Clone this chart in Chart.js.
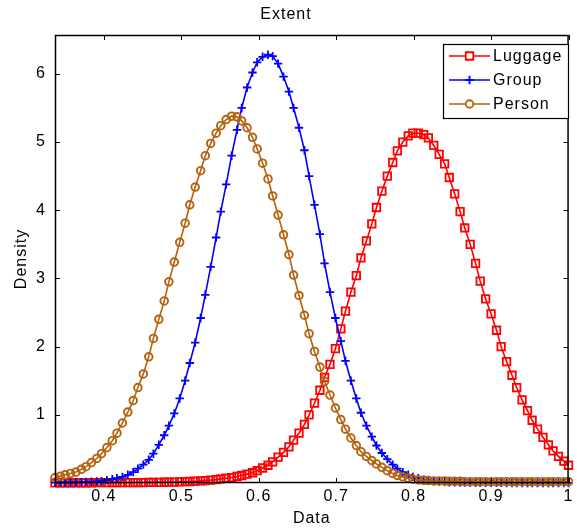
<!DOCTYPE html>
<html>
<head>
<meta charset="utf-8">
<script src="https://cdn.jsdelivr.net/npm/chart.js@4.4.0/dist/chart.umd.min.js"></script>
<style>
  html, body { margin: 0; padding: 0; background: #fff; }
</style>
</head>
<body>
<canvas id="myChart" width="577" height="531"></canvas>
<script>
// sample grid of the density estimate
const dataX = [
    0.337, 0.344, 0.350, 0.357, 0.364, 0.371, 0.377, 0.384, 0.391, 0.397,
    0.404, 0.411, 0.417, 0.424, 0.431, 0.438, 0.444, 0.451, 0.458, 0.464,
    0.471, 0.478, 0.484, 0.491, 0.498, 0.505, 0.511, 0.518, 0.525, 0.531,
    0.538, 0.545, 0.551, 0.558, 0.565, 0.572, 0.578, 0.585, 0.592, 0.598,
    0.605, 0.612, 0.618, 0.625, 0.632, 0.639, 0.645, 0.652, 0.659, 0.665,
    0.672, 0.679, 0.685, 0.692, 0.699, 0.706, 0.712, 0.719, 0.726, 0.732,
    0.739, 0.746, 0.752, 0.759, 0.766, 0.773, 0.779, 0.786, 0.793, 0.799,
    0.806, 0.813, 0.819, 0.826, 0.833, 0.840, 0.846, 0.853, 0.860, 0.866,
    0.873, 0.880, 0.886, 0.893, 0.900, 0.907, 0.913, 0.920, 0.927, 0.933,
    0.940, 0.947, 0.953, 0.960, 0.967, 0.974, 0.980, 0.987, 0.994, 1.000
];

const luggage = [
    0.002, 0.002, 0.002, 0.002, 0.003, 0.003, 0.003, 0.003, 0.004, 0.004,
    0.004, 0.005, 0.005, 0.005, 0.006, 0.006, 0.007, 0.007, 0.008, 0.009,
    0.010, 0.011, 0.012, 0.014, 0.016, 0.019, 0.022, 0.026, 0.031, 0.036,
    0.042, 0.05, 0.06, 0.07, 0.08, 0.095, 0.11, 0.13, 0.15, 0.18,
    0.22, 0.26, 0.31, 0.38, 0.45, 0.53, 0.63, 0.73, 0.86, 1.00,
    1.17, 1.36, 1.55, 1.74, 1.97, 2.26, 2.52, 2.80, 3.04, 3.30,
    3.55, 3.80, 4.04, 4.28, 4.50, 4.70, 4.87, 5.00, 5.09, 5.13,
    5.13, 5.11, 5.06, 4.95, 4.82, 4.68, 4.48, 4.24, 3.98, 3.74,
    3.50, 3.22, 2.96, 2.70, 2.48, 2.24, 2.00, 1.78, 1.58, 1.40,
    1.22, 1.06, 0.92, 0.79, 0.67, 0.56, 0.47, 0.39, 0.32, 0.26
];

const group = [
    0.005, 0.006, 0.007, 0.008, 0.010, 0.012, 0.015, 0.018, 0.022, 0.028,
    0.042, 0.055, 0.07, 0.09, 0.12, 0.16, 0.21, 0.27, 0.34, 0.43,
    0.56, 0.70, 0.84, 1.02, 1.24, 1.50, 1.76, 2.06, 2.42, 2.76,
    3.17, 3.60, 3.98, 4.38, 4.80, 5.18, 5.50, 5.80, 6.02, 6.17,
    6.25, 6.28, 6.26, 6.15, 5.96, 5.74, 5.50, 5.21, 4.88, 4.50,
    4.08, 3.65, 3.22, 2.80, 2.42, 2.08, 1.79, 1.50, 1.24, 1.03,
    0.84, 0.68, 0.55, 0.44, 0.35, 0.27, 0.21, 0.16, 0.12, 0.09,
    0.07, 0.05, 0.04, 0.03, 0.02, 0.015, 0.012, 0.010, 0.008, 0.006,
    0.005, 0.004, 0.003, 0.003, 0.002, 0.002, 0.002, 0.001, 0.001, 0.001,
    0.001, 0.001, 0.001, 0.001, 0.001, 0.001, 0.001, 0.001, 0.001, 0.001
];

const person = [
    0.08, 0.10, 0.12, 0.14, 0.16, 0.20, 0.24, 0.30, 0.36, 0.43,
    0.52, 0.62, 0.73, 0.88, 1.04, 1.21, 1.40, 1.60, 1.85, 2.12,
    2.40, 2.67, 2.95, 3.24, 3.53, 3.81, 4.08, 4.34, 4.58, 4.80,
    4.98, 5.13, 5.24, 5.33, 5.38, 5.37, 5.31, 5.21, 5.07, 4.90,
    4.69, 4.46, 4.21, 3.93, 3.64, 3.35, 3.05, 2.75, 2.46, 2.19,
    1.93, 1.70, 1.49, 1.29, 1.10, 0.93, 0.79, 0.66, 0.55, 0.46,
    0.39, 0.33, 0.28, 0.23, 0.18, 0.14, 0.11, 0.09, 0.07, 0.055,
    0.045, 0.04, 0.035, 0.03, 0.03, 0.03, 0.025, 0.025, 0.025, 0.02,
    0.02, 0.02, 0.02, 0.02, 0.02, 0.02, 0.02, 0.02, 0.02, 0.02,
    0.02, 0.02, 0.02, 0.02, 0.02, 0.02, 0.02, 0.02, 0.02, 0.02
];

const xTicks = [0.4, 0.5, 0.6, 0.7, 0.8, 0.9, 1];
const yTicks = [1, 2, 3, 4, 5, 6];

const FONT = 'Liberation Sans, Arial, sans-serif';
const BROWN = 'rgb(181, 98, 14)';

const pts = ys => dataX.map((x, i) => ({ x: x, y: ys[i] }));

// inward ticks, box and the legend inside the axes
const frame = {
    id: 'frame',
    beforeDraw(chart) {
        chart.ctx.letterSpacing = '1px';
    },
    afterDraw(chart) {
        const { ctx, chartArea: a, scales: { x, y } } = chart;
        ctx.save();
        ctx.strokeStyle = '#000';
        ctx.lineWidth = 1;
        ctx.beginPath();
        xTicks.forEach(v => {
            const px = Math.round(x.getPixelForValue(v)) + 0.5;
            ctx.moveTo(px, a.bottom); ctx.lineTo(px, a.bottom - 5);
            ctx.moveTo(px, a.top); ctx.lineTo(px, a.top + 5);
        });
        yTicks.forEach(v => {
            const py = Math.round(y.getPixelForValue(v)) + 0.5;
            ctx.moveTo(a.left, py); ctx.lineTo(a.left + 5, py);
            ctx.moveTo(a.right, py); ctx.lineTo(a.right - 5, py);
        });
        ctx.stroke();
        ctx.lineWidth = 1.5;
        ctx.strokeRect(a.left + 0.5, a.top + 0.5, a.width - 1, a.height - 1);

        // legend
        const lx = 443, ly = 44, lw = 125, lh = 74;
        ctx.fillStyle = '#fff';
        ctx.fillRect(lx, ly, lw, lh);
        ctx.lineWidth = 1.2;
        ctx.strokeStyle = '#000';
        ctx.strokeRect(lx + 0.5, ly + 0.5, lw, lh);
        ctx.font = '16px ' + FONT;
        ctx.textBaseline = 'middle';
        chart.data.datasets.forEach((ds, i) => {
            const ry = ly + 12 + i * 24;
            ctx.strokeStyle = ds.borderColor;
            ctx.lineWidth = 1.6;
            ctx.beginPath();
            ctx.moveTo(lx + 6, ry); ctx.lineTo(lx + 47, ry);
            ctx.stroke();
            ctx.fillStyle = '#fff';
            ctx.lineWidth = ds.pointBorderWidth;
            Chart.helpers.drawPoint(ctx, {
                pointStyle: ds.pointStyle, radius: ds.pointRadius,
                rotation: 0, borderWidth: ds.pointBorderWidth
            }, lx + 26.5, ry);
            ctx.fillStyle = '#000';
            ctx.fillText(ds.label, lx + 50, ry + 1);
        });
        ctx.restore();
    }
};

const ctx = document.getElementById('myChart');

new Chart(ctx, {
    type: 'line',
    data: {
        datasets: [{
            label: 'Luggage',
            data: pts(luggage),
            borderColor: 'rgb(255, 0, 0)',
            pointStyle: 'rect',
            pointRadius: 5.3,
            pointBorderWidth: 1.8,
            order: 3
        }, {
            label: 'Group',
            data: pts(group),
            borderColor: 'rgb(0, 0, 255)',
            pointStyle: 'cross',
            pointRadius: 4.2,
            pointBorderWidth: 1.8,
            order: 2
        }, {
            label: 'Person',
            data: pts(person),
            borderColor: BROWN,
            pointStyle: 'circle',
            pointRadius: 3.8,
            pointBorderWidth: 1.9,
            order: 1
        }].map(ds => Object.assign(ds, {
            borderWidth: 1.6,
            backgroundColor: 'transparent',
            pointBackgroundColor: 'transparent',
            pointBorderColor: ds.borderColor,
            tension: 0,
            fill: false,
            clip: 6
        }))
    },
    options: {
        responsive: false,
        animation: false,
        events: [],
        layout: { padding: { left: 0, right: 5, top: 0, bottom: 0 } },
        plugins: {
            legend: { display: false },
            tooltip: { enabled: false },
            title: {
                display: true,
                text: 'Extent',
                color: '#000',
                font: { family: FONT, size: 16, weight: 'normal' },
                padding: { top: 5, bottom: 10.8 }
            }
        },
        scales: {
            x: {
                type: 'linear',
                min: 0.337,
                max: 1,
                afterBuildTicks: s => { s.ticks = xTicks.map(v => ({ value: v })); },
                afterFit: s => { s.height = 48; },
                grid: { display: false, drawTicks: false },
                border: { display: false },
                ticks: {
                    padding: 4,
                    color: '#000',
                    autoSkip: false,
                    maxRotation: 0,
                    font: { family: FONT, size: 16 },
                    callback: v => String(+v.toFixed(1))
                },
                title: {
                    display: true,
                    text: 'Data',
                    color: '#000',
                    font: { family: FONT, size: 16 },
                    padding: { top: 0, bottom: 3 }
                }
            },
            y: {
                min: 0,
                max: 6.57,
                afterBuildTicks: s => { s.ticks = yTicks.map(v => ({ value: v })); },
                afterFit: s => { s.width = 55; },
                grid: { display: false, drawTicks: false },
                border: { display: false },
                ticks: {
                    padding: 9,
                    color: '#000',
                    font: { family: FONT, size: 16 }
                },
                title: {
                    display: true,
                    text: 'Density',
                    color: '#000',
                    font: { family: FONT, size: 16 },
                    padding: { top: 12, bottom: 0 }
                }
            }
        }
    },
    plugins: [frame]
});
</script>
</body>
</html>
